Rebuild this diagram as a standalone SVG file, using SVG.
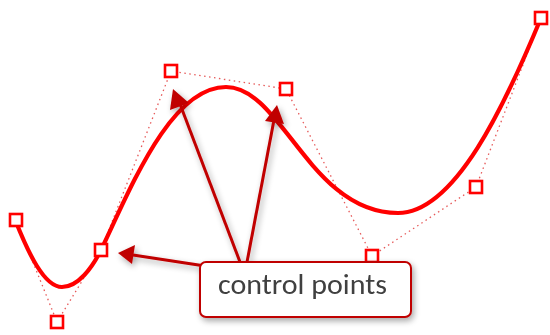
<svg xmlns="http://www.w3.org/2000/svg" width="550" height="335" viewBox="0 0 550 335">
<defs>
<style>
.poly{fill:none;stroke:#e03030;stroke-width:1.3;stroke-dasharray:1.5 3.5;opacity:0.8}
.curve{fill:none;stroke:#ff0000;stroke-width:4.2;stroke-linecap:round}
.cp{fill:#fff;stroke:#ff0000;stroke-width:2.6}
.arrow{stroke:#c00000;stroke-width:3;fill:none}
.label{font-family:Carlito,"Liberation Sans",sans-serif;font-size:29px;fill:#404040}
</style>
<filter id="sh" x="-20%" y="-20%" width="140%" height="140%">
<feGaussianBlur in="SourceAlpha" stdDeviation="3"/>
<feOffset dx="2" dy="3"/>
<feComponentTransfer><feFuncA type="linear" slope="0.35"/></feComponentTransfer>
<feMerge><feMergeNode/><feMergeNode in="SourceGraphic"/></feMerge>
</filter>
</defs>
<g id="control-polygon">
<polyline class="poly" points="16,220 57,322 101,250 171,71 286,89 372,256 476,187 541,18"/>
</g>
<g id="curve">
<path class="curve" d="M16,222 C28,252 44,287 62,287 C78,287 92,268 101,250 C130,190 170,87 226,87 C282,87 310,213 398,213 C455,213 505,105 541,18"/>
</g>
<g id="control-points">
<rect class="cp" x="10" y="214" width="12" height="12"/>
<rect class="cp" x="51" y="316" width="12" height="12"/>
<rect class="cp" x="95" y="244" width="12" height="12"/>
<rect class="cp" x="165" y="65" width="12" height="12"/>
<rect class="cp" x="280" y="83" width="12" height="12"/>
<rect class="cp" x="366" y="250" width="12" height="12"/>
<rect class="cp" x="470" y="181" width="12" height="12"/>
<rect class="cp" x="535" y="12" width="12" height="12"/>
</g>
<g id="connectors" filter="url(#sh)">
<line class="arrow" x1="240" y1="262" x2="180" y2="104"/>
<polygon fill="#c00000" points="173,89 170,110 189,103"/>
<line class="arrow" x1="247" y1="262" x2="274" y2="120"/>
<polygon fill="#c00000" points="277,105 265,121 284,124"/>
<line class="arrow" x1="205" y1="266" x2="133" y2="255"/>
<polygon fill="#c00000" points="118,253 135,245 132,264"/>
</g>
<g id="callout" filter="url(#sh)">
<rect x="200" y="262" width="211" height="55" rx="6" ry="6" fill="#fff" stroke="#c00000" stroke-width="2"/>
<text class="label" x="218" y="294" textLength="169" lengthAdjust="spacingAndGlyphs">control points</text>
</g>
</svg>
